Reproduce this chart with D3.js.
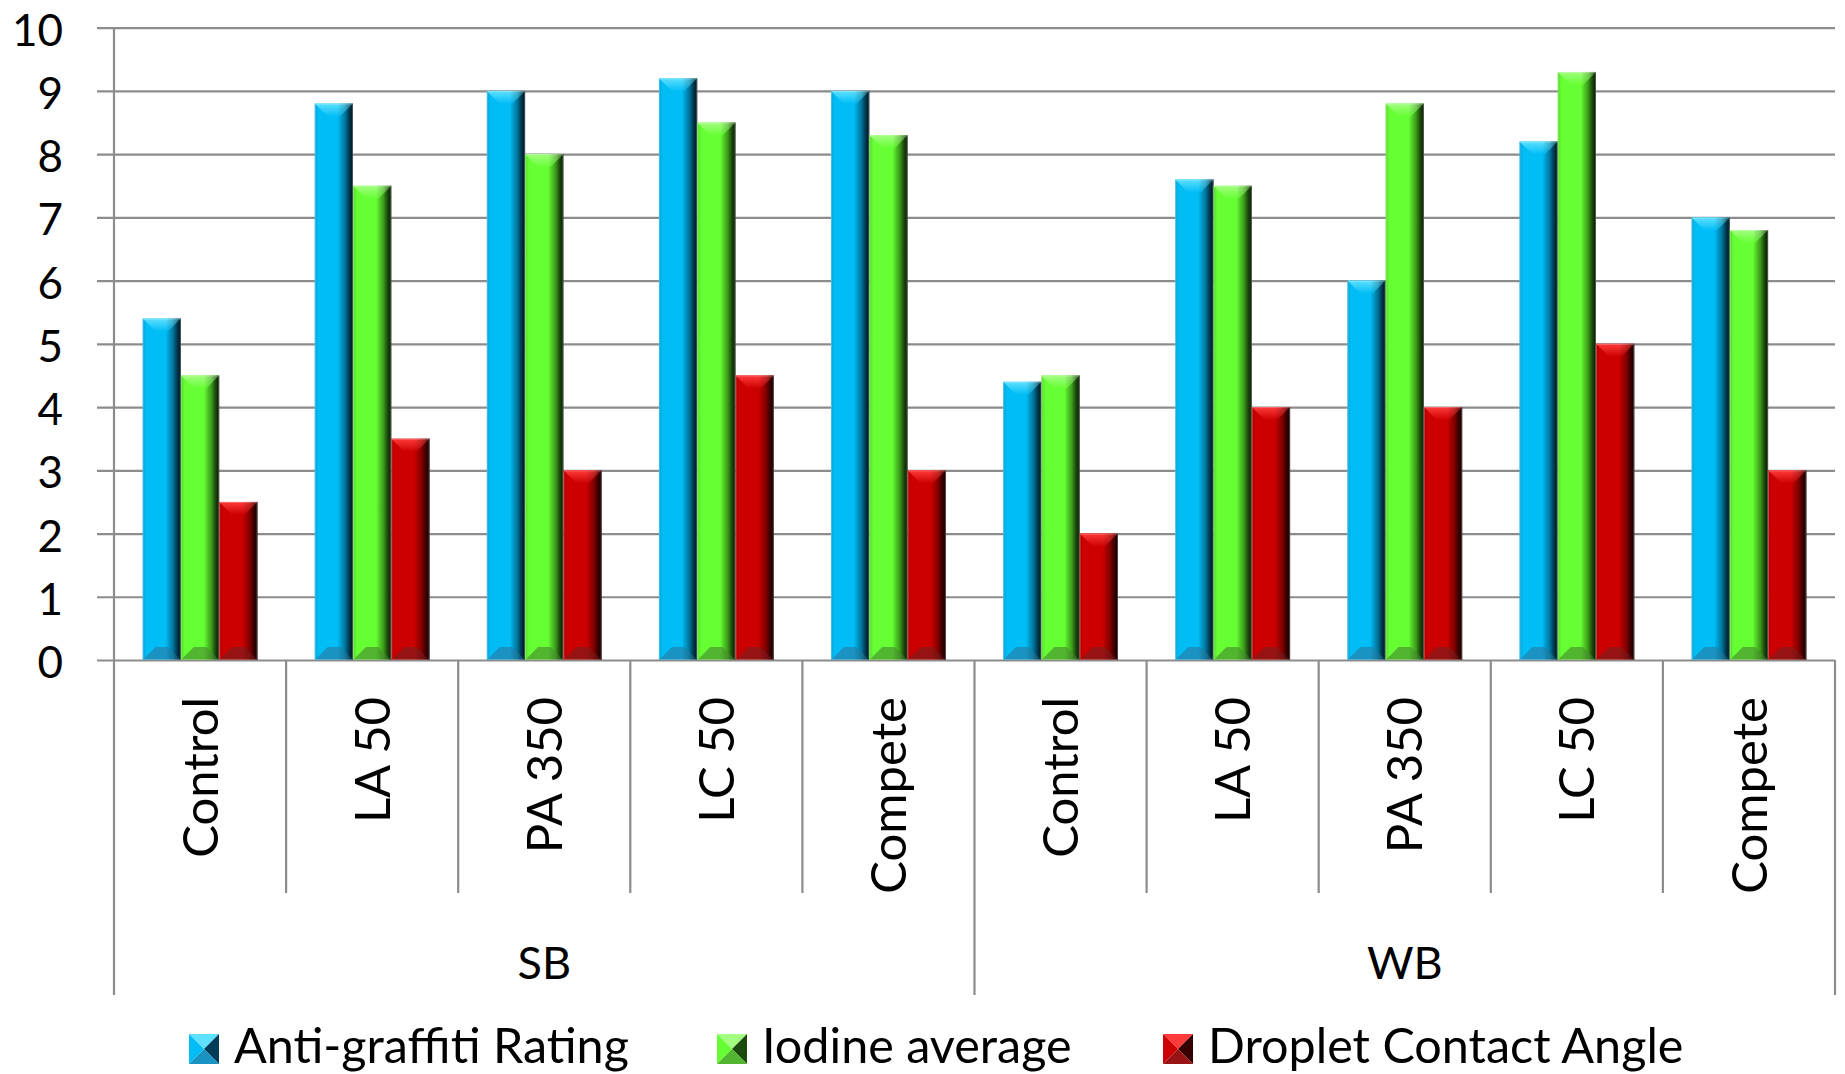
<!DOCTYPE html>
<html>
<head>
<meta charset="utf-8">
<script src="https://cdn.jsdelivr.net/npm/d3@7"></script>
<style>
  html, body { margin: 0; padding: 0; background: #fff; }
  svg { display: block; }
  text { font-family: Lato, "Open Sans", sans-serif; fill: #000; }
</style>
</head>
<body>
<svg id="chart" width="1845" height="1074"></svg>
<script>
// Coating test results by binder group and treatment
const groups = ["SB", "WB"];
const treatments = ["Control", "LA 50", "PA 350", "LC 50", "Compete"];
const seriesNames = ["Anti-graffiti Rating", "Iodine average", "Droplet Contact Angle"];
const antiGraffiti = [5.4, 8.8, 9.0, 9.2, 9.0, 4.4, 7.6, 6.0, 8.2, 7.0];
const iodineAverage = [4.5, 7.5, 8.0, 8.5, 8.3, 4.5, 7.5, 8.8, 9.3, 6.8];
const contactAngle = [2.5, 3.5, 3.0, 4.5, 3.0, 2.0, 4.0, 4.0, 5.0, 3.0];
const yTicks = [0, 1, 2, 3, 4, 5, 6, 7, 8, 9, 10];

const seriesValues = [antiGraffiti, iodineAverage, contactAngle];
const categories = groups.flatMap(g => treatments.map(t => ({ group: g, label: t })));

const palette = [
  { key: "blue",  main: "#00bdf6", left: "#0aa2d6", shade: "#0090c0", deep: "#003c58", light: "#5fe0ff", bottom: "#1a93c2" },
  { key: "green", main: "#66ff33", left: "#55d82a", shade: "#48c020", deep: "#1c4a0c", light: "#a2ff80", bottom: "#52b530" },
  { key: "red",   main: "#cc0000", left: "#b00000", shade: "#a00000", deep: "#360000", light: "#ff3a3a", bottom: "#981414" }
];

const svg = d3.select("#chart");
const plot = { left: 114, right: 1835, top: 27.7, bottom: 660 };

const x0 = d3.scaleBand()
  .domain(d3.range(categories.length))
  .range([plot.left, plot.right])
  .paddingInner(0).paddingOuter(0);

const x1 = d3.scaleBand()
  .domain(d3.range(seriesNames.length))
  .range([0, x0.bandwidth()])
  .paddingInner(0).paddingOuter(0.747);

const y = d3.scaleLinear().domain([0, 10]).range([plot.bottom, plot.top]);

// gradients
const defs = svg.append("defs");
palette.forEach(p => {
  const body = defs.append("linearGradient").attr("id", "body-" + p.key)
    .attr("x1", "0").attr("x2", "1").attr("y1", "0").attr("y2", "0");
  [[0, p.left], [0.1, p.main], [0.6, p.main], [0.8, p.shade], [1, p.deep]]
    .forEach(([o, c]) => body.append("stop").attr("offset", o).attr("stop-color", c));

  const top = defs.append("linearGradient").attr("id", "top-" + p.key)
    .attr("x1", "0").attr("x2", "0").attr("y1", "0").attr("y2", "1");
  [[0, p.light], [1, p.main]]
    .forEach(([o, c]) => top.append("stop").attr("offset", o).attr("stop-color", c));
});
const edge = defs.append("linearGradient").attr("id", "edge-shade")
  .attr("x1", "0").attr("x2", "1").attr("y1", "0").attr("y2", "0");
[[0, 0], [0.6, 0], [0.8, 0.2], [1, 0.65]]
  .forEach(([o, a]) => edge.append("stop").attr("offset", o).attr("stop-color", "#000").attr("stop-opacity", a));

// gridlines and y axis
const gridColor = "#8c8c8c";
const yAxis = d3.axisLeft(y).tickValues(yTicks).tickSize(plot.right - 97).tickFormat(d3.format("d"));
const gy = svg.append("g").attr("transform", `translate(${plot.right},0)`).call(yAxis);
gy.select(".domain").remove();
gy.selectAll(".tick line").attr("stroke", gridColor).attr("stroke-width", 2.2);
gy.selectAll(".tick text")
  .attr("x", -(plot.right - 63)).attr("dy", "0.4em")
  .style("font-size", "44px").style("font-family", "Lato, sans-serif").attr("fill", "#000");

svg.append("line")
  .attr("x1", plot.left).attr("x2", plot.left)
  .attr("y1", y(10)).attr("y2", plot.bottom)
  .attr("stroke", gridColor).attr("stroke-width", 2.2);

// category dividers below the axis
const edges = d3.range(categories.length + 1);
svg.append("g").selectAll("line").data(edges).join("line")
  .attr("x1", i => i === categories.length ? plot.right : x0(i))
  .attr("x2", i => i === categories.length ? plot.right : x0(i))
  .attr("y1", plot.bottom)
  .attr("y2", i => (i % treatments.length === 0) ? 995 : 893)
  .attr("stroke", gridColor).attr("stroke-width", 2.2);

// bars with bevelled faces
const bars = [];
categories.forEach((c, i) => {
  seriesValues.forEach((vals, s) => {
    bars.push({ i, s, v: vals[i] });
  });
});

const barG = svg.append("g").selectAll("g").data(bars).join("g")
  .attr("transform", d => `translate(${x0(d.i) + x1(d.s)},${y(d.v)})`);

barG.each(function (d) {
  const g = d3.select(this);
  const p = palette[d.s];
  const w = x1.bandwidth();
  const h = y(0) - y(d.v);
  const b = Math.min(13, h / 2);
  g.append("rect").attr("width", w).attr("height", h).attr("fill", `url(#body-${p.key})`);
  g.append("polygon")
    .attr("points", `0,0 ${w},0 ${w - b},${b} ${b},${b}`)
    .attr("fill", `url(#top-${p.key})`);
  g.append("polygon")
    .attr("points", `0,${h} ${w},${h} ${w - b},${h - b} ${b},${h - b}`)
    .attr("fill", p.bottom);
  g.append("rect").attr("width", w).attr("height", h).attr("fill", "url(#edge-shade)");
  g.append("rect").attr("x", 0.5).attr("y", 0.5).attr("width", w - 1).attr("height", h - 1)
    .attr("fill", "none").attr("stroke", "#ffffff").attr("stroke-opacity", 0.25).attr("stroke-width", 1);
});

// rotated treatment labels
svg.append("g").selectAll("text").data(categories).join("text")
  .attr("transform", (d, i) => `translate(${x0(i) + x0.bandwidth() / 2},697) rotate(-90)`)
  .attr("text-anchor", "end")
  .attr("dy", "0.36em")
  .style("font-size", "49px")
  .text(d => d.label);

// group labels
svg.append("g").selectAll("text").data(groups).join("text")
  .attr("x", (g, k) => (x0(k * treatments.length) + (k === groups.length - 1 ? plot.right : x0((k + 1) * treatments.length))) / 2)
  .attr("y", 979)
  .attr("text-anchor", "middle")
  .style("font-size", "45px")
  .text(g => g);

// legend
const legendX = [189, 717, 1163];
const legend = svg.append("g").selectAll("g").data(seriesNames).join("g")
  .attr("transform", (d, k) => `translate(${legendX[k]},1034)`);
legend.each(function (d, k) {
  const g = d3.select(this);
  const p = palette[k];
  const s = 30, c = s / 2;
  g.append("polygon").attr("points", `0,0 ${s},0 ${c},${c}`).attr("fill", p.light);
  g.append("polygon").attr("points", `0,0 ${c},${c} 0,${s}`).attr("fill", p.main);
  g.append("polygon").attr("points", `${s},0 ${s},${s} ${c},${c}`).attr("fill", p.deep);
  g.append("polygon").attr("points", `0,${s} ${s},${s} ${c},${c}`).attr("fill", p.bottom);
  g.append("text").attr("x", 45).attr("y", 29)
    .style("font-size", "48.5px")
    .text(d);
});
</script>
</body>
</html>
